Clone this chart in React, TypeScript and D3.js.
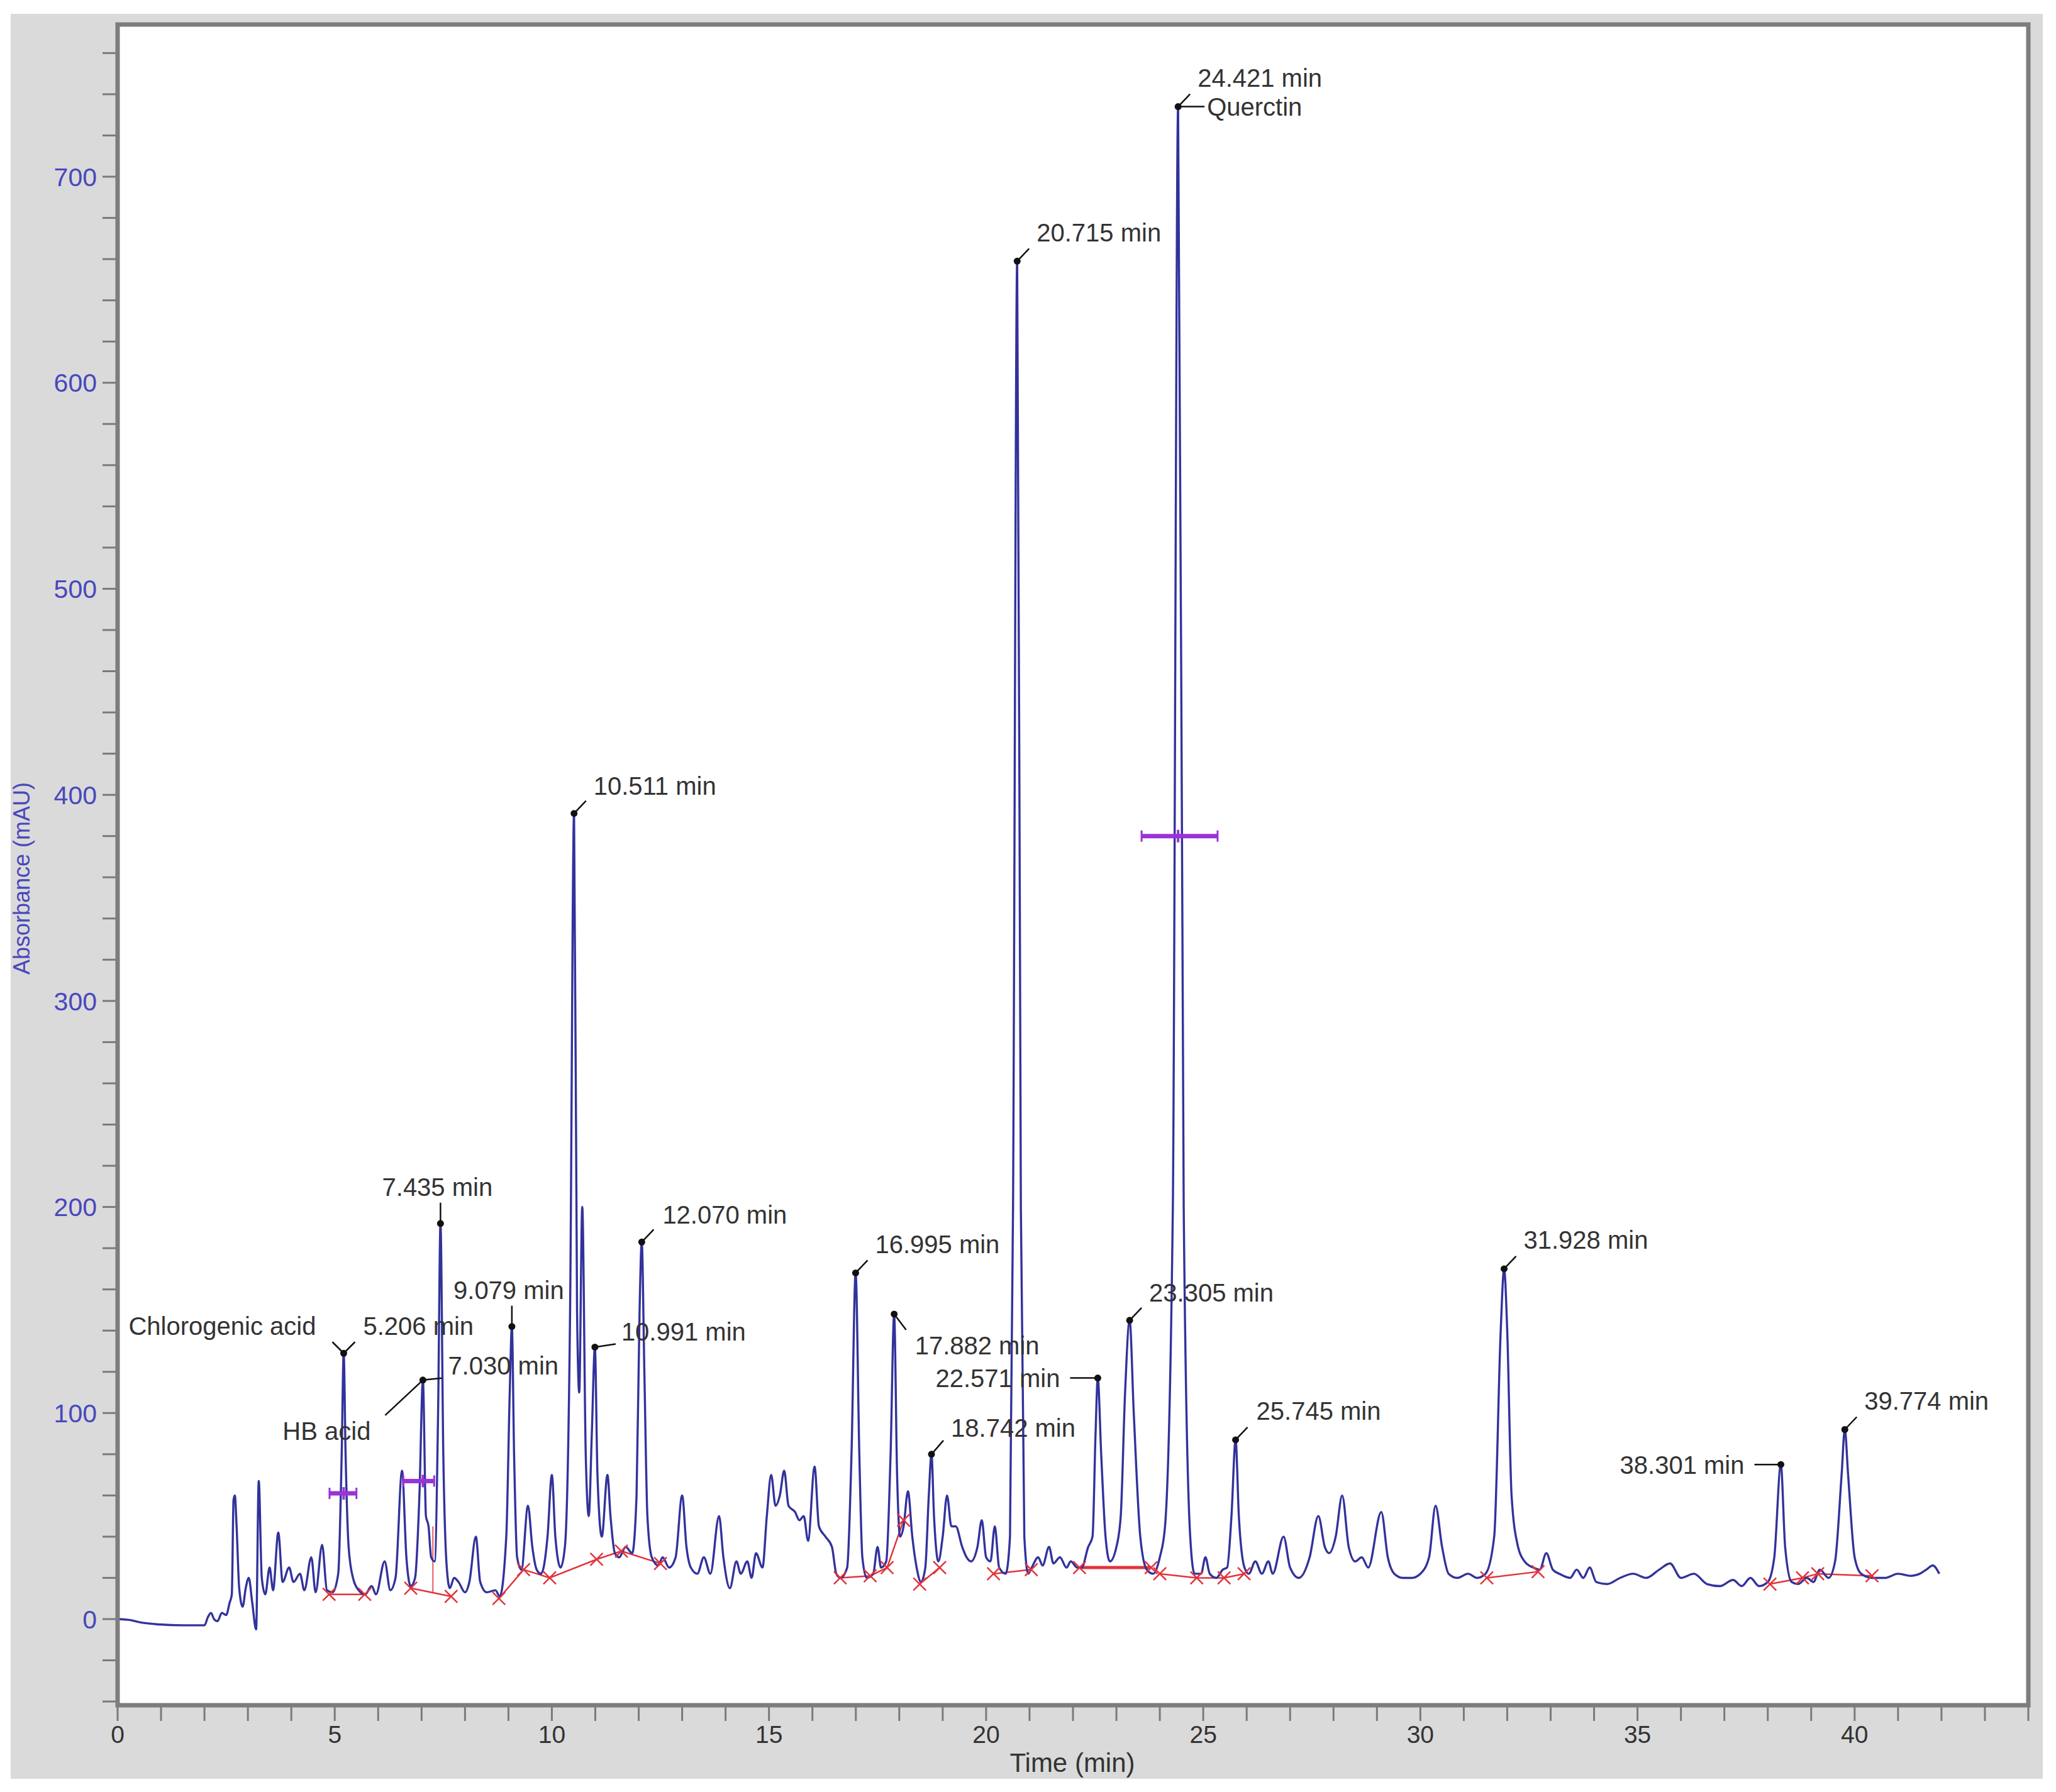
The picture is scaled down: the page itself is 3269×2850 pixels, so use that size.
import React from 'react';
import * as d3 from 'd3';

// ---- DATA ----
const trace: [number, number][] = [
  [0, 0], [0.3, -0.5], [0.5, -1.5], [0.9, -2.5], [1.5, -3], [2.0, -3], [2.08, 1], [2.15, 3], [2.22, 0], [2.3, -1],
  [2.4, 3], [2.5, 2], [2.58, 8], [2.63, 12], [2.67, 58], [2.7, 60], [2.74, 45], [2.8, 15], [2.88, 6], [2.95, 15],
  [3.02, 20], [3.1, 8], [3.19, -5], [3.25, 67], [3.32, 20], [3.4, 12], [3.5, 25], [3.58, 14], [3.7, 42], [3.8, 18],
  [3.95, 25], [4.05, 18], [4.2, 22], [4.3, 14], [4.46, 30], [4.56, 13], [4.71, 36], [4.82, 14], [4.95, 13],
  [5.08, 22], [5.16, 80], [5.206, 129], [5.25, 80], [5.32, 35], [5.42, 20], [5.55, 14], [5.7, 12], [5.85, 16],
  [5.95, 12], [6.15, 28], [6.28, 14], [6.4, 20], [6.55, 72], [6.65, 30], [6.75, 16], [6.85, 20], [6.95, 60],
  [7.03, 116], [7.1, 50], [7.16, 45], [7.22, 30], [7.3, 28], [7.38, 100], [7.435, 192], [7.5, 80], [7.58, 25],
  [7.65, 15], [7.75, 20], [7.85, 18], [8.0, 13], [8.1, 18], [8.25, 40], [8.35, 18], [8.5, 13], [8.7, 14], [8.8, 11],
  [8.95, 40], [9.03, 110], [9.079, 142], [9.13, 80], [9.2, 30], [9.3, 24], [9.45, 55], [9.55, 35], [9.65, 24],
  [9.75, 22], [9.9, 40], [10.0, 70], [10.08, 40], [10.2, 25], [10.3, 35], [10.42, 150], [10.511, 391], [10.58, 150],
  [10.63, 110], [10.7, 200], [10.78, 80], [10.85, 50], [10.92, 90], [10.991, 132], [11.05, 70], [11.15, 40],
  [11.28, 70], [11.35, 50], [11.45, 32], [11.55, 30], [11.7, 35], [11.85, 32], [11.95, 60], [12.02, 150],
  [12.07, 183], [12.13, 120], [12.2, 50], [12.3, 30], [12.45, 26], [12.55, 30], [12.7, 25], [12.85, 30], [13.0, 60],
  [13.1, 35], [13.2, 25], [13.35, 22], [13.5, 30], [13.65, 22], [13.85, 50], [13.95, 30], [14.1, 15], [14.25, 28],
  [14.35, 22], [14.5, 28], [14.6, 20], [14.7, 32], [14.85, 25], [14.95, 50], [15.05, 70], [15.15, 55], [15.25, 60],
  [15.35, 72], [15.45, 55], [15.6, 52], [15.7, 48], [15.8, 50], [15.9, 38], [16.05, 74], [16.15, 45], [16.3, 40],
  [16.45, 35], [16.55, 22], [16.65, 20], [16.8, 25], [16.9, 80], [16.995, 168], [17.08, 80], [17.15, 30], [17.25, 20],
  [17.4, 22], [17.5, 35], [17.58, 25], [17.7, 28], [17.8, 80], [17.882, 148], [17.95, 70], [18.02, 40], [18.1, 45],
  [18.2, 62], [18.3, 40], [18.4, 25], [18.5, 18], [18.6, 25], [18.68, 60], [18.742, 80], [18.8, 50], [18.9, 28],
  [19.0, 40], [19.1, 60], [19.2, 45], [19.3, 45], [19.45, 35], [19.55, 30], [19.65, 28], [19.8, 35], [19.9, 48],
  [20.0, 30], [20.1, 28], [20.2, 45], [20.3, 25], [20.45, 22], [20.55, 40], [20.62, 200], [20.715, 659], [20.8, 200],
  [20.88, 40], [20.97, 22], [21.05, 25], [21.2, 30], [21.3, 26], [21.45, 35], [21.55, 27], [21.7, 30], [21.85, 25],
  [21.95, 28], [22.1, 25], [22.2, 25], [22.35, 35], [22.45, 40], [22.52, 90], [22.571, 117], [22.65, 80], [22.75, 40],
  [22.85, 28], [23.0, 35], [23.1, 50], [23.2, 110], [23.305, 145], [23.4, 100], [23.55, 40], [23.7, 24], [23.85, 22],
  [24.0, 30], [24.12, 45], [24.3, 200], [24.421, 734], [24.55, 200], [24.7, 40], [24.8, 22], [24.95, 22], [25.05, 30],
  [25.15, 22], [25.3, 20], [25.45, 24], [25.55, 25], [25.65, 50], [25.745, 87], [25.82, 50], [25.95, 25], [26.05, 22],
  [26.2, 28], [26.35, 22], [26.5, 28], [26.6, 22], [26.85, 40], [27.0, 25], [27.2, 20], [27.45, 30], [27.65, 50],
  [27.8, 35], [27.9, 32], [28.05, 40], [28.2, 60], [28.35, 35], [28.5, 28], [28.65, 30], [28.8, 25], [29.1, 52],
  [29.25, 30], [29.4, 22], [29.6, 20], [29.8, 20], [30.0, 22], [30.2, 30], [30.35, 55], [30.5, 35], [30.65, 22],
  [30.85, 20], [31.1, 22], [31.3, 20], [31.5, 22], [31.7, 40], [31.85, 140], [31.928, 170], [32.0, 140], [32.1, 60],
  [32.25, 35], [32.4, 28], [32.6, 25], [32.75, 24], [32.9, 32], [33.05, 24], [33.2, 22], [33.45, 20], [33.6, 24],
  [33.75, 20], [33.9, 25], [34.05, 18], [34.3, 17], [34.6, 20], [34.9, 22], [35.2, 20], [35.5, 24], [35.75, 27],
  [36.0, 20], [36.3, 22], [36.6, 17], [36.9, 16], [37.2, 19], [37.4, 16], [37.6, 20], [37.8, 16], [38.0, 18],
  [38.15, 30], [38.301, 75], [38.4, 35], [38.55, 18], [38.7, 17], [38.9, 20], [39.05, 18], [39.2, 24], [39.4, 20],
  [39.55, 28], [39.7, 70], [39.774, 92], [39.85, 70], [40.0, 30], [40.15, 22], [40.4, 20], [40.7, 20], [41.0, 22],
  [41.3, 21], [41.5, 22], [41.65, 24], [41.8, 26], [41.95, 22],
];

const peakTimes = [5.206, 7.03, 7.435, 9.079, 10.511, 10.991, 12.07, 16.995, 17.882, 18.742, 20.715, 22.571, 23.305, 24.421, 25.745, 31.928, 38.301, 39.774];
const peakHeights = [129, 116, 192, 142, 391, 132, 183, 168, 148, 80, 659, 117, 145, 734, 87, 170, 75, 92];
const compoundNames: Record<string, string> = { '5.206': 'Chlorogenic acid', '7.030': 'HB acid', '24.421': 'Querctin' };

const widthMarkers = [
  { t: 5.206, v: 61, t0: 4.88, t1: 5.5 },
  { t: 7.03, v: 67, t0: 6.58, t1: 7.29 },
  { t: 24.421, v: 380, t0: 23.58, t1: 25.33 },
];

const baselineSegments: [number, number][][] = [
  [[4.87, 12], [5.69, 12]],
  [[6.75, 15], [7.68, 11]],
  [[8.78, 10], [9.35, 24], [9.95, 20], [11.03, 29], [11.6, 33], [12.5, 27]],
  [[16.64, 20], [17.33, 21], [17.72, 25], [18.1, 48]],
  [[18.47, 17], [18.93, 25]],
  [[20.17, 22], [21.04, 24]],
  [[22.15, 25], [23.8, 25]],
  [[24.0, 22], [24.85, 20], [25.48, 20], [25.94, 22]],
  [[31.53, 20], [32.71, 23]],
  [[38.05, 17], [38.8, 20], [39.15, 22], [40.4, 21]],
];
const dropLines: [number, number, number][] = [[7.26, 12.5, 45]];

const xTickLabels = [0, 5, 10, 15, 20, 25, 30, 35, 40];
const yTickLabels = [0, 100, 200, 300, 400, 500, 600, 700];

// ---- LAYOUT (label offsets relative to the peak dot, px) ----
type Lab = { text: 'rt' | 'name'; dx: number; dy: number; anchor: 'start' | 'middle' | 'end'; lx0: number; ly0: number; lx1: number; ly1: number };
const labelLayout: Record<string, Lab[]> = {
  '5.206': [
    { text: 'rt', dx: 31, dy: -44, anchor: 'start', lx0: 3, ly0: -3, lx1: 18, ly1: -18 },
    { text: 'name', dx: -44, dy: -44, anchor: 'end', lx0: -3, ly0: -3, lx1: -18, ly1: -18 },
  ],
  '7.030': [
    { text: 'rt', dx: 40, dy: -23, anchor: 'start', lx0: 0, ly0: 0, lx1: 30, ly1: -3 },
    { text: 'name', dx: -83, dy: 81, anchor: 'end', lx0: 0, ly0: 0, lx1: -60, ly1: 56 },
  ],
  '7.435': [{ text: 'rt', dx: -5, dy: -58, anchor: 'middle', lx0: 0, ly0: 0, lx1: 0, ly1: -33 }],
  '9.079': [{ text: 'rt', dx: -5, dy: -58, anchor: 'middle', lx0: 0, ly0: 0, lx1: 0, ly1: -33 }],
  '10.511': [{ text: 'rt', dx: 31, dy: -44, anchor: 'start', lx0: 0, ly0: 0, lx1: 19, ly1: -20 }],
  '10.991': [{ text: 'rt', dx: 42, dy: -25, anchor: 'start', lx0: 0, ly0: 0, lx1: 33, ly1: -5 }],
  '12.070': [{ text: 'rt', dx: 33, dy: -44, anchor: 'start', lx0: 0, ly0: 0, lx1: 19, ly1: -20 }],
  '16.995': [{ text: 'rt', dx: 31, dy: -46, anchor: 'start', lx0: 0, ly0: 0, lx1: 19, ly1: -20 }],
  '17.882': [{ text: 'rt', dx: 33, dy: 50, anchor: 'start', lx0: 0, ly0: 0, lx1: 19, ly1: 25 }],
  '18.742': [{ text: 'rt', dx: 31, dy: -42, anchor: 'start', lx0: 0, ly0: 0, lx1: 19, ly1: -22 }],
  '20.715': [{ text: 'rt', dx: 31, dy: -46, anchor: 'start', lx0: 0, ly0: 0, lx1: 19, ly1: -20 }],
  '22.571': [{ text: 'rt', dx: -60, dy: 0, anchor: 'end', lx0: 0, ly0: 0, lx1: -44, ly1: 0 }],
  '23.305': [{ text: 'rt', dx: 31, dy: -44, anchor: 'start', lx0: 0, ly0: 0, lx1: 19, ly1: -20 }],
  '24.421': [
    { text: 'rt', dx: 31, dy: -46, anchor: 'start', lx0: 0, ly0: 0, lx1: 19, ly1: -20 },
    { text: 'name', dx: 46, dy: 0, anchor: 'start', lx0: 0, ly0: 0, lx1: 42, ly1: 0 },
  ],
  '25.745': [{ text: 'rt', dx: 33, dy: -46, anchor: 'start', lx0: 0, ly0: 0, lx1: 19, ly1: -20 }],
  '31.928': [{ text: 'rt', dx: 31, dy: -46, anchor: 'start', lx0: 0, ly0: 0, lx1: 19, ly1: -20 }],
  '38.301': [{ text: 'rt', dx: -58, dy: 0, anchor: 'end', lx0: 0, ly0: 0, lx1: -42, ly1: 0 }],
  '39.774': [{ text: 'rt', dx: 31, dy: -46, anchor: 'start', lx0: 0, ly0: 0, lx1: 19, ly1: -20 }],
};

const FONT = '"Liberation Sans", Arial, sans-serif';

export default function App() {
  const W = 3269, H = 2850;
  const P = { left: 187, right: 3225, top: 39, bottom: 2712 };
  const x = d3.scaleLinear().domain([0, 44]).range([P.left, P.right]);
  const y = d3.scaleLinear().domain([0, 700]).range([2575, 281]);
  const line = d3.line<[number, number]>().x(d => x(d[0])).y(d => y(d[1])).curve(d3.curveMonotoneX);
  const segLine = d3.line<[number, number]>().x(d => x(d[0])).y(d => y(d[1]));

  const yMinor = d3.range(-40, 761, 20).filter(v => y(v) > P.top + 2 && y(v) < P.bottom - 2);
  const xMinor = d3.range(0, 45, 1);

  const labelColor = '#333333';
  const traceColor = '#32329c';
  const red = '#e0343c';
  const purple = '#9a33d6';

  return (
    <svg width={W} height={H} style={{ position: 'absolute', left: 0, top: 0, background: '#ffffff' }} fontFamily={FONT}>
      <defs>
        <clipPath id="plotclip">
          <rect x={P.left} y={P.top} width={P.right - P.left} height={P.bottom - P.top} />
        </clipPath>
      </defs>
      <rect x={17} y={22} width={3248 - 17} height={2829 - 22} fill="#dadada" />
      <rect x={P.left} y={P.top} width={P.right - P.left} height={P.bottom - P.top} fill="#ffffff" />

      {/* y ticks */}
      {yMinor.map(v => (
        <line key={'yt' + v} x1={P.left - 24} x2={P.left} y1={y(v)} y2={y(v)} stroke="#7a7a7a" strokeWidth={3} />
      ))}
      {yTickLabels.map(v => (
        <text key={'yl' + v} x={154} y={y(v)} dy="0.36em" textAnchor="end" fontSize={41} fill="#4848bc">{v}</text>
      ))}
      {/* x ticks */}
      {xMinor.map(t => (
        <line key={'xt' + t} x1={x(t)} x2={x(t)} y1={P.bottom} y2={P.bottom + 25} stroke="#7a7a7a" strokeWidth={3} />
      ))}
      {xTickLabels.map(t => (
        <text key={'xl' + t} x={x(t)} y={2772} textAnchor="middle" fontSize={39} fill="#333333">{t}</text>
      ))}
      <text x={1705} y={2818} textAnchor="middle" fontSize={42} fill="#333333">Time (min)</text>
      <text transform={`translate(47,1397) rotate(-90)`} textAnchor="middle" fontSize={36} fill="#4848bc">Absorbance (mAU)</text>

      <g clipPath="url(#plotclip)">
        {/* baseline segments */}
        {baselineSegments.map((seg, i) => (
          <path key={'bs' + i} d={segLine(seg) || ''} fill="none" stroke={red} strokeWidth={i === 6 ? 5 : 2.5} />
        ))}
        {dropLines.map((d, i) => (
          <line key={'dl' + i} x1={x(d[0])} x2={x(d[0])} y1={y(d[1])} y2={y(d[2])} stroke={red} strokeWidth={2} opacity={0.8} />
        ))}
        {/* trace */}
        <path d={line(trace) || ''} fill="none" stroke={traceColor} strokeWidth={3.4} strokeLinejoin="round" />
        {/* baseline X markers */}
        {baselineSegments.flat().map((p, i) => {
          const cx = x(p[0]), cy = y(p[1]), s = 10;
          return (
            <g key={'xm' + i} stroke={red} strokeWidth={2.5}>
              <line x1={cx - s} y1={cy - s} x2={cx + s} y2={cy + s} />
              <line x1={cx - s} y1={cy + s} x2={cx + s} y2={cy - s} />
            </g>
          );
        })}
        {/* width markers */}
        {widthMarkers.map((m, i) => (
          <g key={'wm' + i} stroke={purple} strokeWidth={7}>
            <line x1={x(m.t0)} x2={x(m.t1)} y1={y(m.v)} y2={y(m.v)} />
            <line x1={x(m.t0)} x2={x(m.t0)} y1={y(m.v) - 9} y2={y(m.v) + 9} strokeWidth={3} />
            <line x1={x(m.t1)} x2={x(m.t1)} y1={y(m.v) - 9} y2={y(m.v) + 9} strokeWidth={3} />
            <line x1={x(m.t)} x2={x(m.t)} y1={y(m.v) - 10} y2={y(m.v) + 10} strokeWidth={4} />
          </g>
        ))}
      </g>

      {/* peak annotations */}
      {peakTimes.map((t, i) => {
        const key = t.toFixed(3);
        const cx = x(t), cy = y(peakHeights[i]);
        const labs = labelLayout[key] || [];
        return (
          <g key={'pk' + key}>
            {labs.map((l, j) => (
              <g key={j}>
                <line x1={cx + l.lx0} y1={cy + l.ly0} x2={cx + l.lx1} y2={cy + l.ly1} stroke="#111" strokeWidth={2.5} />
                <text x={cx + l.dx} y={cy + l.dy} dy="0.36em" textAnchor={l.anchor} fontSize={40} fill={labelColor}>
                  {l.text === 'rt' ? `${key} min` : compoundNames[key]}
                </text>
              </g>
            ))}
            <circle cx={cx} cy={cy} r={5.5} fill="#111" />
          </g>
        );
      })}

      {/* plot frame */}
      <rect x={P.left} y={P.top} width={P.right - P.left} height={P.bottom - P.top} fill="none" stroke="#7d7d7d" strokeWidth={7} />
    </svg>
  );
}
